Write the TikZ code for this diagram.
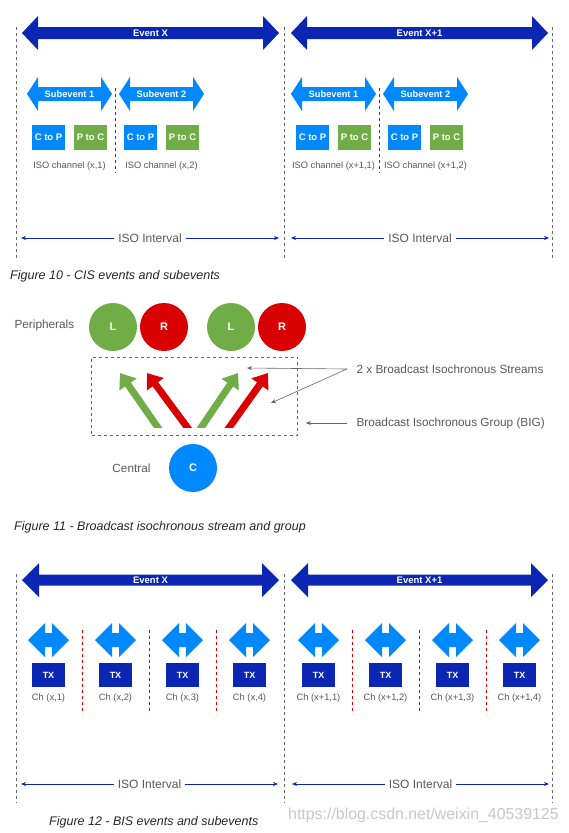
\documentclass[tikz,border=0pt]{standalone}
\usepackage{fontspec}
\setmainfont{Liberation Sans}
\usetikzlibrary{arrows.meta}

\definecolor{evblue}{RGB}{10,38,178}
\definecolor{subblue}{RGB}{0,136,255}
\definecolor{pgreen}{RGB}{112,173,71}
\definecolor{pred}{RGB}{216,0,0}
\definecolor{txtgray}{RGB}{88,88,88}

% double headed block arrow: colour, left tip, right tip, centre y, head length, head half height, shaft half height
\newcommand{\dblarrow}[7]{%
  \fill[#1] (#2,#4) -- ({#2+#5},{#4-#6}) -- ({#2+#5},{#4-#7}) -- ({#3-#5},{#4-#7})
    -- ({#3-#5},{#4-#6}) -- (#3,#4) -- ({#3-#5},{#4+#6}) -- ({#3-#5},{#4+#7})
    -- ({#2+#5},{#4+#7}) -- ({#2+#5},{#4+#6}) -- cycle;}

\begin{document}
\begin{tikzpicture}[
	x=1pt,y=-1pt,
	evtext/.style={text=white,font=\bfseries\fontsize{9.5}{10}\selectfont,inner sep=0pt},
	subtext/.style={text=white,font=\bfseries\fontsize{9.3}{10}\selectfont,inner sep=0pt},
	chbox/.style={
		minimum width=33pt,
		minimum height=25pt,
		inner sep=0pt,
		text=white,
		font=\bfseries\fontsize{9.5}{10}\selectfont,
	},
	chlabel/.style={text=txtgray,font=\fontsize{9.3}{10}\selectfont},
	figtext/.style={text=txtgray,font=\fontsize{11.8}{13}\selectfont},
	ivtext/.style={text=txtgray,font=\fontsize{12}{13}\selectfont,inner xsep=4pt},
	interval/.style={draw=evblue,line width=0.7pt,-{Stealth[length=5pt,width=4pt]}},
	boundline/.style={draw=black!60,dashed,line width=0.7pt},
	sepline/.style={draw=pred,dashed,line width=0.7pt},
	dev/.style={circle,minimum size=48pt,inner sep=0pt,text=white,
		font=\bfseries\fontsize{11}{12}\selectfont},
	stream/.style={line width=7pt,shorten <=-8pt,-{Triangle[length=14pt,width=20pt]}},
	pointer/.style={draw=black!60,line width=0.6pt,-{Stealth[length=5pt,width=4pt]}},
	figcap/.style={anchor=west,inner sep=0pt,text=black!85,
		font=\itshape\fontsize{12.5}{14}\selectfont},
]
\useasboundingbox (0,0) rectangle (569,833);

% ---------- Figure 10: CIS ----------
\foreach \bx in {16,284,552}
	\draw[boundline] (\bx,27) -- (\bx,258);

\dblarrow{evblue}{22}{279}{33}{16}{17}{6}
\node[evtext] (evxa) at (150.5,33) {Event X};
\dblarrow{evblue}{291}{548}{33}{16}{17}{6}
\node[evtext] (evya) at (419.5,33) {Event X+1};

\foreach \off/\ev/\s in {0/x/a, 264/x+1/b} {
	\foreach \xa/\k in {27/1, 119/2} {
		\dblarrow{subblue}{\xa+\off}{\xa+\off+85}{94}{11}{17}{7}
		\node[subtext] (sub\s\k) at ({\xa+\off+42.5},94) {Subevent \k};
		\node[chbox,fill=subblue] (cp\s\k) at ({\xa+\off+21.5},137.5) {C to P};
		\node[chbox,fill=pgreen] (pc\s\k) at ({\xa+\off+63.5},137.5) {P to C};
		\node[chlabel] (ch\s\k) at ({\xa+\off+42.5},166) {ISO channel (\ev,\k)};
	}
	\draw[sepline] ({115+\off},88) -- ({115+\off},173);
}

% ISO intervals (both figures)
\foreach \xa/\xb/\y/\s in {21/279/238/a, 291/549/238/b, 21/278/784/c, 292/549/784/d} {
	\node[ivtext] (iso\s) at ({(\xa+\xb)/2},\y) {ISO Interval};
	\draw[interval] (iso\s.west) -- (\xa,\y);
	\draw[interval] (iso\s.east) -- (\xb,\y);
}

\node[figcap] (cap10) at (10,276) {Figure 10 - CIS events and subevents};

% ---------- Figure 11: BIG ----------
\node[figtext,anchor=west] (peri) at (11,325) {Peripherals};
\node[dev,fill=pgreen] (l1) at (113,327) {L};
\node[dev,fill=pred] (r1) at (164,327) {R};
\node[dev,fill=pgreen] (l2) at (231,327) {L};
\node[dev,fill=pred] (r2) at (282,327) {R};

\node[draw=black!60,dashed,line width=0.7pt,
	minimum width=206pt,minimum height=78pt] (grp) at (194.5,396) {};

\begin{scope}
	\clip (92,357) rectangle (297,427);
	\foreach \xa/\xb/\col/\k in {157.5/120/pgreen/1, 187/147/pred/2, 201.5/238/pgreen/3, 229.5/268/pred/4} {
		\coordinate (bot\k) at (\xa,427);
		\coordinate (tip\k) at (\xb,373);
		\draw[stream,\col] (bot\k) -- (tip\k);
	}
\end{scope}

\node[dev,fill=subblue] (cen) at (193,468) {C};
\node[figtext,anchor=east] (cent) at (154,468) {Central};

\node[figtext,anchor=west] (bis) at (353,369) {2 x Broadcast Isochronous Streams};
\node[figtext,anchor=west] (big) at (353,423) {Broadcast Isochronous Group (BIG)};
\coordinate (bisa) at (247,368);
\coordinate (bisb) at (271,403);
\draw[pointer] ([xshift=-6]bis.west) -- (bisa);
\draw[pointer] ([xshift=-6]bis.west) -- (bisb);
\draw[pointer,shorten >=8pt] ([xshift=-6]big.west) -- (grp.east |- big.west);

\node[figcap] (cap11) at (14,527) {Figure 11 - Broadcast isochronous stream and group};

% ---------- Figure 12: BIS ----------
\foreach \bx in {16,284,552}
	\draw[boundline] (\bx,574) -- (\bx,803);

\dblarrow{evblue}{22}{279}{580}{17}{17}{5.5}
\node[evtext] (evxc) at (150.5,580) {Event X};
\dblarrow{evblue}{291}{548}{580}{17}{17}{5.5}
\node[evtext] (evyc) at (419.5,580) {Event X+1};

\foreach \off/\ev/\s in {0/x/c, 270/x+1/d} {
	\foreach \k [evaluate=\k as \cx using {48.5+67*(\k-1)+\off}] in {1,...,4} {
		\dblarrow{subblue}{\cx-20.5}{\cx+20.5}{640}{17}{17}{7}
		\node[chbox,fill=evblue,minimum height=24pt,
			font=\bfseries\fontsize{9}{10}\selectfont] (tx\s\k) at (\cx,675) {TX};
		\node[chlabel] (ch\s\k) at (\cx,698) {Ch (\ev,\k)};
	}
	\foreach \k in {1,2,3}
		\draw[sepline] ({15+67*\k+\off},630) -- ({15+67*\k+\off},714);
}

\node[figcap] (cap12) at (49,822) {Figure 12 - BIS events and subevents};

\node[anchor=west,inner sep=0pt,text=black!22,font=\fontsize{15.9}{17}\selectfont]
	(mark) at (288,815) {https://blog.csdn.net/weixin\_40539125};

\end{tikzpicture}
\end{document}
